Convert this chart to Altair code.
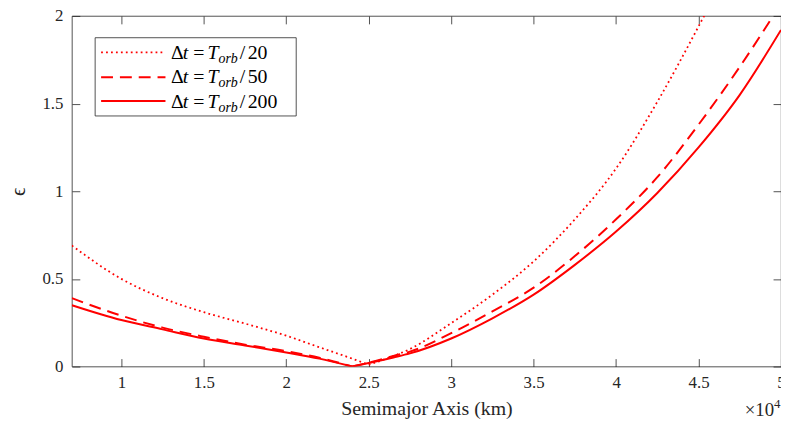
import altair as alt
import pandas as pd

# ---- data (x in units of 10^4 km) ----
x_solid = [0.7, 1.0, 1.25, 1.5, 1.75, 2.0, 2.2, 2.4, 2.5, 2.65, 2.75, 3.0, 3.25, 3.5, 3.75, 4.0, 4.25, 4.5, 4.75, 5.0]
y_solid = [0.35, 0.265, 0.212, 0.16, 0.12, 0.08, 0.045, 0.0, 0.02, 0.052, 0.075, 0.16, 0.275, 0.41, 0.58, 0.77, 0.99, 1.25, 1.55, 1.92]

x_dashed = [0.7, 1.0, 1.25, 1.5, 1.75, 2.0, 2.2, 2.4, 2.5, 2.65, 2.75, 3.0, 3.25, 3.5, 3.75, 4.0, 4.25, 4.5, 4.75, 5.0]
y_dashed = [0.39, 0.29, 0.222, 0.17, 0.125, 0.088, 0.05, 0.0, 0.022, 0.06, 0.085, 0.19, 0.315, 0.45, 0.63, 0.84, 1.08, 1.38, 1.71, 2.07]

x_dotted = [0.7, 1.0, 1.25, 1.5, 1.75, 2.0, 2.2, 2.4, 2.5, 2.65, 2.75, 3.0, 3.25, 3.5, 3.75, 4.0, 4.25, 4.5, 4.6]
y_dotted = [0.69, 0.50, 0.39, 0.31, 0.245, 0.176, 0.11, 0.045, 0.01, 0.06, 0.10, 0.248, 0.41, 0.60, 0.84, 1.13, 1.51, 1.94, 2.12]

# x position of each curve's minimum (splits the curve into two smooth branches)
x_min = {"T/20": 2.5, "T/50": 2.4, "T/200": 2.4}

x_ticks = [1, 1.5, 2, 2.5, 3, 3.5, 4, 4.5, 5]
y_ticks = [0, 0.5, 1, 1.5, 2]

series_names = ["T/20", "T/50", "T/200"]
legend_denoms = ["20", "50", "200"]

W, H = 716, 354
FONT = "Liberation Serif, Times New Roman, serif"
AX = "#262626"
RED = "#ff0000"

rows = []
for name, xs, ys in [("T/20", x_dotted, y_dotted), ("T/50", x_dashed, y_dashed), ("T/200", x_solid, y_solid)]:
    for a, e in zip(xs, ys):
        if a <= x_min[name]:
            rows.append({"series": name, "branch": "L", "a": a, "eps": e})
        if a >= x_min[name]:
            rows.append({"series": name, "branch": "R", "a": a, "eps": e})
df = pd.DataFrame(rows)

xscale = alt.Scale(domain=[0.7, 5], nice=False, zero=False)
yscale = alt.Scale(domain=[0, 2], nice=False, zero=False)

common_axis = dict(domain=False, grid=False, tickSize=8, tickColor=AX, tickWidth=0.8,
                   labelFont=FONT, labelFontSize=17, labelColor=AX, labelFlush=False,
                   labelOverlap=False, format="~g", offset=-8)
title_style = dict(titleFont=FONT, titleFontWeight="normal", titleColor=AX)

x_axis = alt.Axis(orient="bottom", values=x_ticks, labelPadding=8,
                  title="Semimajor Axis (km)", titleFontSize=20, titlePadding=8,
                  **common_axis, **title_style)
y_axis = alt.Axis(orient="left", values=y_ticks, labelPadding=9,
                  title="ϵ", titleFontSize=21, titlePadding=14,
                  **common_axis, **title_style)
x_axis_top = alt.Axis(orient="top", values=x_ticks, labels=False, title=None, **common_axis)
y_axis_right = alt.Axis(orient="right", values=y_ticks, labels=False, title=None, **common_axis)

styles = {"T/20": dict(strokeDash=[1.8, 3.2], strokeWidth=1.8, strokeCap="butt"),
          "T/50": dict(strokeDash=[12, 7], strokeWidth=2),
          "T/200": dict(strokeWidth=2)}

layers = []
for i, name in enumerate(series_names):
    layers.append(
        alt.Chart(df).transform_filter(alt.datum.series == name)
        .mark_line(color=RED, clip=True, interpolate="monotone", **styles[name])
        .encode(x=alt.X("a:Q", scale=xscale, axis=x_axis if i == 0 else None),
                y=alt.Y("eps:Q", scale=yscale, axis=y_axis if i == 0 else None),
                detail="branch:N")
    )

frame = (alt.Chart(df).transform_filter(alt.datum.series == "T/200")
         .mark_line(opacity=0)
         .encode(x=alt.X("a:Q", scale=xscale, axis=x_axis_top),
                 y=alt.Y("eps:Q", scale=yscale, axis=y_axis_right),
                 detail="branch:N"))
layers.append(frame)

# ---- legend (drawn by hand so the subscript can be shown) ----
one = pd.DataFrame({"k": [0]})
legend_parts = [
    alt.Chart(one).mark_rect(fill="white", stroke=AX, strokeWidth=0.8)
    .encode(x=alt.value(23.5), x2=alt.value(226.5), y=alt.value(22), y2=alt.value(101))
]
row_line_y = [36.7, 62, 86]
row_base_y = [43.3, 68, 92.5]
for i, name in enumerate(series_names):
    st = styles[name]
    legend_parts.append(
        alt.Chart(one).mark_rule(color=RED, **st)
        .encode(x=alt.value(29.5), x2=alt.value(94.5), y=alt.value(row_line_y[i]))
    )
    b = row_base_y[i]
    pieces = [("Δ", 100.0, b, 20, "normal"), ("t", 112.0, b, 20, "italic"),
              ("=", 122.5, b, 20, "normal"), ("T", 137.0, b, 20, "italic"),
              ("orb", 148.0, b + 4, 14, "italic"), ("/", 169.5, b, 20, "normal"),
              (legend_denoms[i], 177.5, b, 20, "normal")]
    for txt, px, py, fs, style in pieces:
        legend_parts.append(
            alt.Chart(one).mark_text(align="left", baseline="alphabetic", font=FONT,
                                     fontSize=fs, fontStyle=style, color="black")
            .encode(x=alt.value(px), y=alt.value(py), text=alt.value(txt))
        )

# ---- x10^4 exponent label ----
legend_parts.append(
    alt.Chart(one).mark_text(align="right", baseline="alphabetic", font=FONT, fontSize=19, color=AX)
    .encode(x=alt.value(W - 7), y=alt.value(H + 50), text=alt.value("×10"))
)
legend_parts.append(
    alt.Chart(one).mark_text(align="left", baseline="alphabetic", font=FONT, fontSize=13, color=AX)
    .encode(x=alt.value(W - 7), y=alt.value(H + 42), text=alt.value("4"))
)

chart = (
    alt.layer(*layers, *legend_parts)
    .resolve_axis(x="independent", y="independent")
    .properties(width=W, height=H,
                autosize=alt.AutoSizeParams(type="none"),
                padding={"left": 64.5, "top": 6, "right": 0, "bottom": 54},
                background="white")
    .configure_view(stroke=AX, strokeWidth=0.8)
)

chart.save("out.html", embed_options={"renderer": "svg", "actions": False})
